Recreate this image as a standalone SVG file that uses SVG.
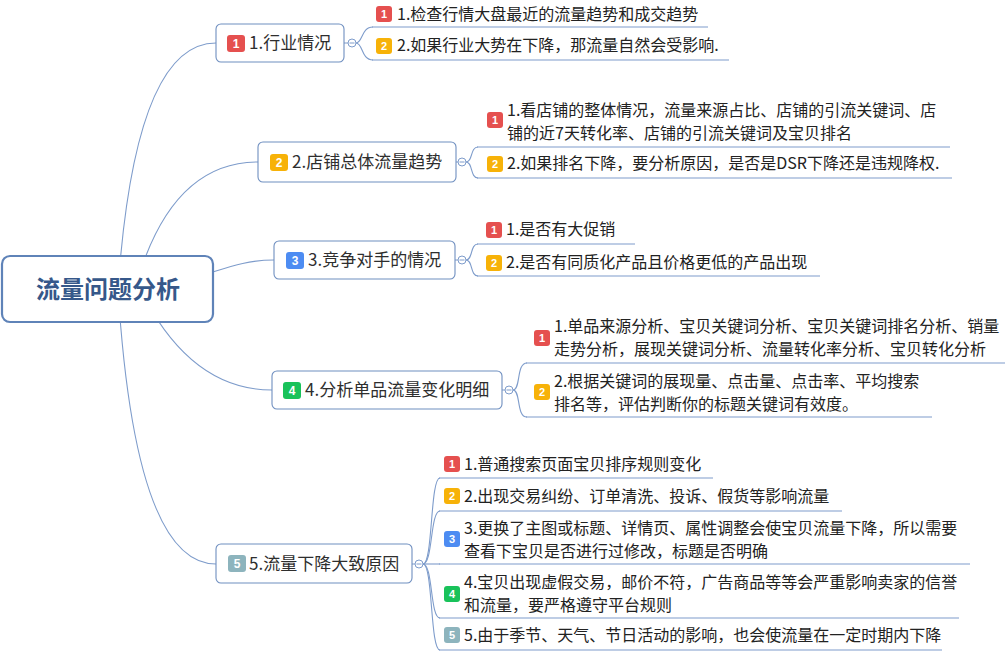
<svg xmlns="http://www.w3.org/2000/svg" width="1007" height="653" viewBox="0 0 1007 653">
<defs>
<style>
.bg{fill:#ffffff}
.conn{fill:none;stroke:#7e9ccb;stroke-width:1.1}
.ul{fill:none;stroke:#7e9ccb;stroke-width:1.1}
.branch{fill:#ffffff;stroke:#6f8fc0;stroke-width:1.1}
.root{fill:#ffffff;stroke:#5f83b8;stroke-width:2.2}
.tog{fill:#ffffff;stroke:#7e9ccb;stroke-width:1}
.tm{stroke:#7e9ccb;stroke-width:1}
.rt{font-family:"Noto Sans CJK SC","Noto Sans",sans-serif;font-size:24px;font-weight:bold;fill:#36588a}
.bt{font-family:"Noto Sans CJK SC","Noto Sans",sans-serif;font-size:17px;fill:#2e2e2e}
.lt{font-family:"Noto Sans CJK SC","Noto Sans",sans-serif;font-size:16px;fill:#222222}
.bn{font-family:"Liberation Sans",Arial,sans-serif;font-size:11px;font-weight:bold;fill:#ffffff;text-anchor:middle}
.bnl{font-family:"Liberation Sans",Arial,sans-serif;font-size:12px;font-weight:bold;fill:#ffffff;text-anchor:middle}
.p1{fill:#e5504f}.p2{fill:#f7b208}.p3{fill:#4d8cf2}.p4{fill:#19c25a}.p5{fill:#8db4bd}
</style>
</defs>
<rect class="bg" x="0" y="0" width="1007" height="653"/>

<g id="connectors">
<path class="conn" d="M118 289 Q135 43 216 43"/>
<path class="conn" d="M135 289 Q170 162 258 162"/>
<path class="conn" d="M107 289 C200 289 220 260 274 260"/>
<path class="conn" d="M140 289 Q190 390 272 390"/>
<path class="conn" d="M118 289 Q135 564 216 564"/>
<!-- branch 1 -->
<line class="tm" x1="344" y1="43" x2="348" y2="43"/>
<path class="conn" d="M356 43 C363 43 361 27 373 27"/>
<path class="conn" d="M356 43 C363 43 361 60 373 60"/>
<!-- branch 2 -->
<line class="tm" x1="456" y1="162" x2="458" y2="162"/>
<path class="conn" d="M466 162 C473 162 470 147 478 147"/>
<path class="conn" d="M466 162 C473 162 470 178 478 178"/>
<!-- branch 3 -->
<line class="tm" x1="455" y1="260" x2="458" y2="260"/>
<path class="conn" d="M466 260 C473 260 470 244 478 244"/>
<path class="conn" d="M466 260 C473 260 470 276 478 276"/>
<!-- branch 4 -->
<line class="tm" x1="502" y1="390" x2="505" y2="390"/>
<path class="conn" d="M513 390 C521 390 516 363 527 363"/>
<path class="conn" d="M513 390 C521 390 516 417 527 417"/>
<!-- branch 5 -->
<line class="tm" x1="412" y1="564" x2="415" y2="564"/>
<path class="conn" d="M423 564 C433 564 430 478 440 478"/>
<path class="conn" d="M423 564 C433 564 430 511 440 511"/>
<path class="conn" d="M423 564 L440 564"/>
<path class="conn" d="M423 564 C433 564 430 618 440 618"/>
<path class="conn" d="M423 564 C433 564 430 650 440 650"/>
</g>

<g id="root">
<rect class="root" x="2" y="256" width="211" height="66" rx="8"/>
<text class="rt" x="108" y="298" text-anchor="middle">流量问题分析</text>
</g>

<g id="b1">
<rect class="branch" x="216" y="24" width="128" height="38" rx="5"/>
<rect class="p1" x="227" y="35" width="18" height="17" rx="3"/>
<text class="bnl" x="236" y="48">1</text>
<text class="bt" x="249" y="49">1.行业情况</text>
<circle class="tog" cx="352" cy="43" r="4"/><line class="tm" x1="349.5" y1="43" x2="354.5" y2="43"/>
</g>
<g id="b1l1">
<rect class="p1" x="376" y="6" width="16" height="16" rx="3"/><text class="bn" x="384" y="18">1</text>
<text class="lt" x="397" y="20">1.检查行情大盘最近的流量趋势和成交趋势</text>
<line class="ul" x1="372" y1="27" x2="708" y2="27"/>
</g>
<g id="b1l2">
<rect class="p2" x="376" y="38" width="16" height="16" rx="3"/><text class="bn" x="384" y="50">2</text>
<text class="lt" x="397" y="51">2.如果行业大势在下降，那流量自然会受影响.</text>
<line class="ul" x1="372" y1="60" x2="729" y2="60"/>
</g>

<g id="b2">
<rect class="branch" x="258" y="142" width="198" height="40" rx="5"/>
<rect class="p2" x="270" y="154" width="18" height="17" rx="3"/>
<text class="bnl" x="279" y="167">2</text>
<text class="bt" x="292" y="168">2.店铺总体流量趋势</text>
<circle class="tog" cx="462" cy="162" r="4"/><line class="tm" x1="459.5" y1="162" x2="464.5" y2="162"/>
</g>
<g id="b2l1">
<rect class="p1" x="487" y="112" width="16" height="16" rx="3"/><text class="bn" x="495" y="124">1</text>
<text class="lt" x="507" y="116">1.看店铺的整体情况，流量来源占比、店铺的引流关键词、店</text>
<text class="lt" x="507" y="139">铺的近7天转化率、店铺的引流关键词及宝贝排名</text>
<line class="ul" x1="477" y1="147" x2="950" y2="147"/>
</g>
<g id="b2l2">
<rect class="p2" x="487" y="156" width="16" height="16" rx="3"/><text class="bn" x="495" y="168">2</text>
<text class="lt" x="507" y="169">2.如果排名下降，要分析原因，是否是DSR下降还是违规降权.</text>
<line class="ul" x1="477" y1="178" x2="952" y2="178"/>
</g>

<g id="b3">
<rect class="branch" x="274" y="241" width="181" height="38" rx="5"/>
<rect class="p3" x="286" y="252" width="18" height="17" rx="3"/>
<text class="bnl" x="295" y="265">3</text>
<text class="bt" x="308" y="266">3.竞争对手的情况</text>
<circle class="tog" cx="462" cy="260" r="4"/><line class="tm" x1="459.5" y1="260" x2="464.5" y2="260"/>
</g>
<g id="b3l1">
<rect class="p1" x="486" y="222" width="16" height="16" rx="3"/><text class="bn" x="494" y="234">1</text>
<text class="lt" x="506" y="235">1.是否有大促销</text>
<line class="ul" x1="477" y1="244" x2="635" y2="244"/>
</g>
<g id="b3l2">
<rect class="p2" x="486" y="255" width="16" height="16" rx="3"/><text class="bn" x="494" y="267">2</text>
<text class="lt" x="506" y="268">2.是否有同质化产品且价格更低的产品出现</text>
<line class="ul" x1="477" y1="276" x2="820" y2="276"/>
</g>

<g id="b4">
<rect class="branch" x="272" y="371" width="230" height="38" rx="5"/>
<rect class="p4" x="283" y="382" width="18" height="17" rx="3"/>
<text class="bnl" x="292" y="395">4</text>
<text class="bt" x="305" y="396">4.分析单品流量变化明细</text>
<circle class="tog" cx="509" cy="390" r="4"/><line class="tm" x1="506.5" y1="390" x2="511.5" y2="390"/>
</g>
<g id="b4l1">
<rect class="p1" x="534" y="330" width="16" height="16" rx="3"/><text class="bn" x="542" y="342">1</text>
<text class="lt" x="554" y="332">1.单品来源分析、宝贝关键词分析、宝贝关键词排名分析、销量</text>
<text class="lt" x="554" y="355">走势分析，展现关键词分析、流量转化率分析、宝贝转化分析</text>
<line class="ul" x1="526" y1="363" x2="1005" y2="363"/>
</g>
<g id="b4l2">
<rect class="p2" x="534" y="384" width="16" height="16" rx="3"/><text class="bn" x="542" y="396">2</text>
<text class="lt" x="554" y="387">2.根据关键词的展现量、点击量、点击率、平均搜索</text>
<text class="lt" x="554" y="410">排名等，评估判断你的标题关键词有效度。</text>
<line class="ul" x1="526" y1="417" x2="932" y2="417"/>
</g>

<g id="b5">
<rect class="branch" x="216" y="544" width="196" height="39" rx="5"/>
<rect class="p5" x="228" y="555" width="18" height="17" rx="3"/>
<text class="bnl" x="237" y="568">5</text>
<text class="bt" x="249" y="570">5.流量下降大致原因</text>
<circle class="tog" cx="419" cy="564" r="4"/><line class="tm" x1="416.5" y1="564" x2="421.5" y2="564"/>
</g>
<g id="b5l1">
<rect class="p1" x="444" y="456" width="16" height="16" rx="3"/><text class="bn" x="452" y="468">1</text>
<text class="lt" x="464" y="470">1.普通搜索页面宝贝排序规则变化</text>
<line class="ul" x1="439" y1="478" x2="713" y2="478"/>
</g>
<g id="b5l2">
<rect class="p2" x="444" y="488" width="16" height="16" rx="3"/><text class="bn" x="452" y="500">2</text>
<text class="lt" x="464" y="502">2.出现交易纠纷、订单清洗、投诉、假货等影响流量</text>
<line class="ul" x1="439" y1="511" x2="842" y2="511"/>
</g>
<g id="b5l3">
<rect class="p3" x="444" y="531" width="16" height="16" rx="3"/><text class="bn" x="452" y="543">3</text>
<text class="lt" x="464" y="534">3.更换了主图或标题、详情页、属性调整会使宝贝流量下降，所以需要</text>
<text class="lt" x="464" y="557">查看下宝贝是否进行过修改，标题是否明确</text>
<line class="ul" x1="439" y1="564" x2="970" y2="564"/>
</g>
<g id="b5l4">
<rect class="p4" x="444" y="586" width="16" height="16" rx="3"/><text class="bn" x="452" y="598">4</text>
<text class="lt" x="464" y="588">4.宝贝出现虚假交易，邮价不符，广告商品等等会严重影响卖家的信誉</text>
<text class="lt" x="464" y="611">和流量，要严格遵守平台规则</text>
<line class="ul" x1="439" y1="618" x2="959" y2="618"/>
</g>
<g id="b5l5">
<rect class="p5" x="444" y="627" width="16" height="16" rx="3"/><text class="bn" x="452" y="639">5</text>
<text class="lt" x="464" y="641">5.由于季节、天气、节日活动的影响，也会使流量在一定时期内下降</text>
<line class="ul" x1="439" y1="650" x2="942" y2="650"/>
</g>
</svg>
